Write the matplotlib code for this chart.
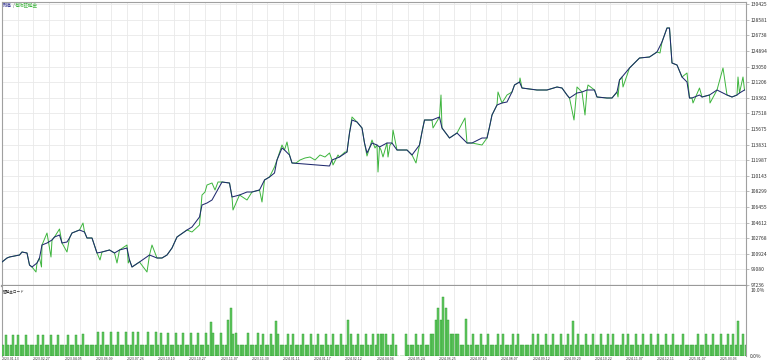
import numpy as np
import matplotlib.pyplot as plt

plt.rcParams['font.family'] = ['Noto Sans CJK JP', 'DejaVu Sans']

# balance curve (deal number, balance)
bal_deal = [0, 2, 3, 7, 8, 10, 11, 12, 14, 15, 16, 18, 20, 21, 23, 24, 26, 27, 28, 31,
            33, 34, 36, 38, 40, 43, 45, 47, 50, 51, 52, 55, 59, 62, 64, 66, 68, 70, 74, 76,
            79, 80, 82, 84, 88, 91, 92, 95, 98, 100, 103, 105, 107, 109, 110, 112, 113, 115, 116, 131,
            132, 135, 138, 139, 140, 142, 144, 145, 146, 148, 150, 151, 154, 156, 158, 162, 164, 167, 168, 169,
            172, 175, 176, 179, 182, 186, 188, 192, 194, 195, 196, 198, 200, 202, 204, 205, 207, 208, 214, 218,
            222, 224, 226, 227, 230, 232, 234, 237, 238, 242, 244, 246, 247, 248, 251, 255, 259, 262, 264, 266,
            267, 268, 270, 272, 274, 275, 276, 279, 280, 283, 286, 290, 292, 294, 295, 297]
bal_value = [99955, 100427, 100546, 100782, 101137, 101018, 99600, 99364, 99836, 100427,
             101964, 102200, 102555, 102910, 103146, 102200, 102319, 102791, 103382, 103737,
             103501, 102791, 102791, 101018, 101137, 101373, 101018, 101373, 101609, 100191,
             99364, 99955, 100782, 100427, 100427, 100782, 101609, 102910, 103737, 104092,
             105274, 106692, 106928, 107283, 109411, 109292, 107638, 107874, 108229, 108229,
             108465, 109647, 110002, 110474, 112011, 113429, 113193, 112602, 111656, 111302,
             112011, 112366, 112957, 115202, 116739, 116503, 115793, 114020, 112838, 114020,
             113784, 113548, 114020, 114020, 113193, 113193, 112602, 113784, 115321, 116739,
             116739, 117094, 115793, 114611, 115202, 114020, 114020, 114611, 114611, 115912,
             117330, 118512, 118748, 118867, 120049, 120876, 121231, 120521, 120285, 120285,
             120640, 120521, 119694, 119339, 119930, 120049, 120285, 120285, 119458, 119339,
             119339, 120049, 121467, 121822, 122885, 124067, 124186, 124777, 125959, 127613,
             127613, 123476, 123240, 121822, 121231, 119339, 119339, 119694, 119458, 119694,
             120285, 119694, 119458, 119694, 119930, 120285]

# equity where it leaves the balance curve
eq_deal = [13.6, 15.8, 18, 19.6, 23, 26, 32.4, 39.2, 46, 50, 50.5, 58, 60, 76, 79, 80, 81.2, 82, 84,
           85.2, 86.4, 92.4, 98, 104, 109, 112, 114, 117.6, 119.2, 121.2, 123.2, 125.2, 127.2, 129.2,
           131, 132.4, 134.4, 137.2, 140, 146, 148, 149.2, 150.4, 151.6, 152.4, 154.4, 155.2, 156.4,
           165.6, 172.4, 175.6, 185.2, 192, 198.4, 202, 207.2, 228.8, 230, 233.2, 234.4, 246.4, 248.4,
           263.2, 274, 276.4, 279, 283.2, 288.4, 294.4, 296.4]
eq_value = [98773, 99364, 103382, 100546, 103855, 101137, 104564, 100191, 99836, 101964, 99836,
            98773, 101964, 103501, 104328, 107874, 108229, 109056, 109293, 108465, 109411, 106101,
            107283, 107047, 111184, 113784, 114139, 111656, 112011, 112247, 112366, 112011, 112602,
            112366, 112838, 111420, 112602, 112957, 117094, 112484, 114375, 113429, 110593, 113193,
            112366, 112366, 113784, 115557, 111656, 115793, 119694, 116975, 113784, 120049, 119694,
            121704, 116739, 120640, 117330, 120876, 119458, 120640, 124659, 122294, 118748, 120521,
            118748, 122885, 121822, 121822]

# margin load (%): base level, raised bars and empty deals
n_deals = 298
base_load = 1.6
peak_deal = [1, 4, 6, 9, 14, 16, 19, 22, 26, 29, 32, 38, 40, 43, 46, 49, 52, 54, 58, 61,
             63, 66, 69, 72, 75, 78, 81, 83, 84, 87, 90, 91, 92, 93, 98, 102, 104, 107, 109, 110,
             114, 116, 120, 123, 126, 129, 132, 135, 138, 139, 142, 145, 148, 150, 151, 152, 153, 156, 161, 165,
             168, 171, 172, 173, 174, 175, 176, 177, 178, 179, 180, 181, 182, 185, 188, 191, 194, 198, 200, 204,
             206, 212, 214, 217, 220, 223, 226, 228, 230, 233, 236, 239, 242, 244, 248, 250, 253, 256, 259, 262,
             265, 268, 272, 278, 281, 284, 287, 290, 292, 294, 296]
peak_load = [3.2, 3.2, 3.2, 3.2, 3.2, 3.2, 3.2, 3.2, 3.2, 3.2, 3.3, 3.6, 3.6, 3.6, 3.6, 3.6, 3.6, 3.6, 3.6, 3.6,
             3.5, 3.5, 3.5, 3.5, 3.5, 3.5, 3.5, 5.2, 3.5, 3.5, 5.4, 7.2, 3.4, 3.5, 3.5, 3.5, 3.4, 3.4, 5.3, 3.4,
             3.4, 3.4, 3.4, 3.4, 3.4, 3.4, 3.4, 3.4, 5.4, 3.4, 3.4, 3.4, 3.4, 3.4, 3.4, 3.4, 3.4, 3.4, 3.4, 3.4,
             3.4, 3.4, 3.4, 5.4, 7.3, 5.4, 8.9, 7.2, 5.4, 3.4, 3.4, 3.4, 3.4, 5.6, 3.4, 3.4, 3.4, 3.4, 3.4, 3.4,
             3.4, 3.4, 3.4, 3.4, 3.4, 3.4, 3.4, 5.3, 3.4, 3.4, 3.4, 3.4, 3.4, 3.4, 3.4, 3.4, 3.4, 3.4, 3.4, 3.4,
             3.4, 3.4, 3.4, 3.4, 3.4, 3.4, 3.4, 3.4, 3.4, 5.3, 3.4]
gap_deals = [158, 159, 160]

y_ticks = [97236, 99080, 100924, 102768, 104612, 106455, 108299, 110143, 111987, 113831,
           115675, 117518, 119362, 121206, 123050, 124894, 126738, 128581, 130425]
date_labels = ['2023.01.13', '2023.02.27', '2023.04.05', '2023.06.09', '2023.07.26', '2023.10.10',
               '2023.10.27', '2023.11.07', '2023.11.30', '2024.01.11', '2024.01.17', '2024.02.12',
               '2024.04.04', '2024.05.24', '2024.06.25', '2024.07.10', '2024.08.07', '2024.09.12',
               '2024.09.20', '2024.10.22', '2024.11.07', '2024.12.11', '2025.01.07', '2025.03.03']

W, H = 768, 364
fig = plt.figure(figsize=(W / 100, H / 100), dpi=100)

def px_axes(left, top, right, bottom):
    return fig.add_axes([left / W, 1 - bottom / H, (right - left) / W, (bottom - top) / H])

ax = px_axes(2, 2, 746, 286)
axb = px_axes(2, 286, 746, 356)

grid_step = 6.24
grid_x = np.arange(48) * grid_step
GRID = '#e9e9e9'
SPINE = '#a0a0a0'

# equity = balance with deviations
eq = dict(zip(bal_deal, bal_value))
eq.update(zip(eq_deal, eq_value))
eq_x = sorted(eq)
eq_y = [eq[k] for k in eq_x]

ax.plot(eq_x, eq_y, color='#3db53d', lw=0.7, zorder=3)
ax.plot(bal_deal, bal_value, color='#202a6e', lw=0.75, zorder=4)

ax.set_xlim(0, 297.6)
ax.set_ylim(97118, 130687)
ax.set_xticks(grid_x)
ax.set_xticklabels([])
ax.tick_params(axis='x', length=0)
ax.yaxis.tick_right()
ax.set_yticks(y_ticks)
ax.set_yticklabels([str(v) for v in y_ticks])
ax.tick_params(axis='y', length=2, width=0.5, color=SPINE, labelsize=3.6,
               labelcolor='#333333', pad=1.5)
ax.grid(True, color=GRID, lw=0.6)
ax.set_axisbelow(True)
for s in ['left', 'top', 'right']:
    ax.spines[s].set_color(SPINE)
    ax.spines[s].set_linewidth(0.8)
ax.spines['bottom'].set_color('#999999')
ax.spines['bottom'].set_linewidth(1.6)

load = np.full(n_deals, base_load)
load[peak_deal] = peak_load
load[gap_deals] = 0
axb.bar(np.arange(n_deals) + 0.5, load, width=0.95, color='#62c862',
        edgecolor='#2a9a2a', linewidth=0.3, zorder=3)
axb.set_xlim(0, 297.6)
axb.set_ylim(0, 10.6)
axb.set_xticks(grid_x)
axb.set_xticklabels([date_labels[i // 2] if i % 2 == 0 and i // 2 < len(date_labels) else ''
                     for i in range(len(grid_x))])
for lab in axb.get_xticklabels():
    lab.set_ha('left')
axb.tick_params(axis='x', length=0, labelsize=2.6, labelcolor='#333333', pad=1)
axb.yaxis.tick_right()
axb.set_yticks([0, 10])
axb.set_yticklabels(['0.0%', '10.0%'])
axb.tick_params(axis='y', length=0, labelsize=3.6, labelcolor='#333333', pad=3)
axb.grid(True, axis='x', color=GRID, lw=0.6)
axb.set_axisbelow(True)
for s in ['left', 'right']:
    axb.spines[s].set_color(SPINE)
    axb.spines[s].set_linewidth(0.8)
axb.spines['top'].set_visible(False)
axb.spines['bottom'].set_visible(False)

fig.text(3 / W, 1 - 5 / H, '残高', color='#2a2a90', fontsize=3.3, va='center', ha='left')
fig.text(12.5 / W, 1 - 5 / H, '/', color='#555555', fontsize=3.3, va='center', ha='left')
fig.text(15 / W, 1 - 5 / H, '有効証拠金', color='#3db53d', fontsize=3.3, va='center', ha='left')
fig.text(3 / W, 1 - 291 / H, '証拠金ロード', color='#333333', fontsize=2.6, va='center', ha='left')

fig.savefig('out.png', dpi=100)
